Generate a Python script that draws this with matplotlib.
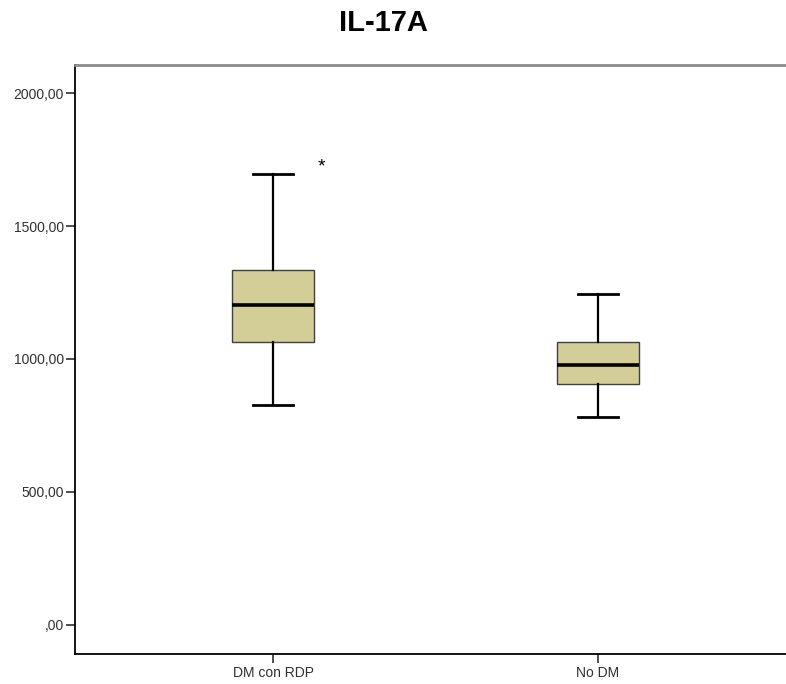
import matplotlib
matplotlib.use("Agg")
import matplotlib.pyplot as plt

# Five-number summaries for IL-17A by group
categories = ["DM con RDP", "No DM"]
whisker_low = [827, 781]
q1 = [1064, 906]
median = [1203, 977]
q3 = [1335, 1064]
whisker_high = [1697, 1245]
extreme_outliers = [[1723], []]

yticks = [0, 500, 1000, 1500, 2000]
ytick_labels = [",00", "500,00", "1000,00", "1500,00", "2000,00"]

plt.rcParams["font.family"] = ["Liberation Sans", "DejaVu Sans"]

W, H = 786, 684
fig = plt.figure(figsize=(W / 100, H / 100), dpi=100)
ax = fig.add_axes([75 / W, (H - 654) / H, (796 - 75) / W, (654 - 64.5) / H])

stats = []
for i, name in enumerate(categories):
    stats.append(dict(label=name, whislo=whisker_low[i], q1=q1[i], med=median[i],
                      q3=q3[i], whishi=whisker_high[i], fliers=[]))

positions = list(range(1, len(categories) + 1))
bp = ax.bxp(stats, positions=positions, widths=0.252, patch_artist=True,
            showfliers=False,
            boxprops=dict(facecolor="#D3CE97", edgecolor="#404040", linewidth=1.0),
            medianprops=dict(color="black", linewidth=2.6),
            whiskerprops=dict(color="black", linewidth=1.6),
            capprops=dict(color="black", linewidth=2.0),
            capwidths=0.125)

# Extreme values drawn as asterisks beside the box
for pos, vals in zip(positions, extreme_outliers):
    for v in vals:
        ax.text(pos + 0.148, v, "*", ha="center", va="center", fontsize=14,
                color="black")

ax.set_xlim(0.39, 2.61)
ax.set_ylim(-111, 2109)
ax.set_yticks(yticks)
ax.set_yticklabels(ytick_labels)
ax.set_xticks(positions)
ax.set_xticklabels(categories)
ax.tick_params(axis="both", labelsize=10, length=6.5, width=1.2, color="#303030",
               labelcolor="#303030")
ax.tick_params(axis="y", pad=1.5)
ax.tick_params(axis="x", pad=2)

ax.spines["left"].set_linewidth(1.3)
ax.spines["bottom"].set_linewidth(1.3)
ax.spines["top"].set_color("#8a8a8a")
ax.spines["top"].set_linewidth(2)
ax.spines["right"].set_visible(False)

fig.text(383 / W, 1 - 23 / H, "IL-17A", ha="center", va="center",
         fontsize=21, fontweight="bold")

fig.savefig("out.png", dpi=100)
